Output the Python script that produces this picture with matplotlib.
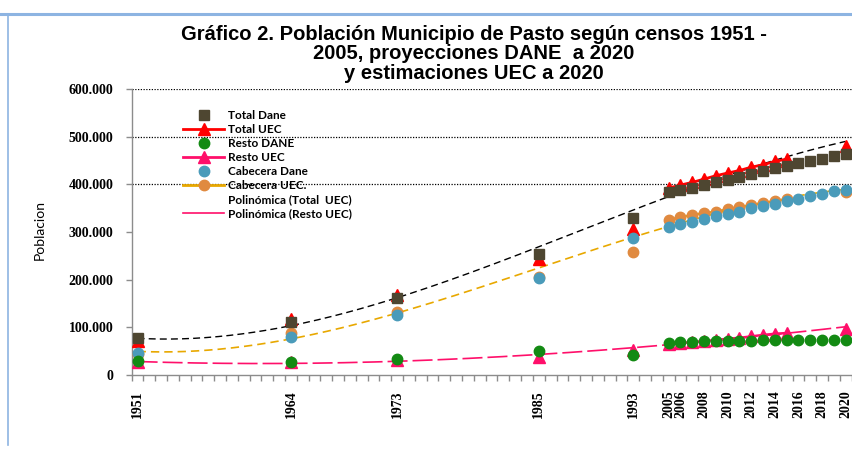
import matplotlib
matplotlib.use('Agg')
import matplotlib.pyplot as plt
from matplotlib.lines import Line2D
from matplotlib.ticker import FuncFormatter, FixedLocator, MultipleLocator
import numpy as np

# ---------------- data ----------------
census_years = [1951, 1964, 1973, 1985, 1993]
dane_years = [2005, 2006, 2007, 2008, 2009, 2010, 2011, 2012,
              2013, 2014, 2015, 2016, 2017, 2018, 2019, 2020]
uec_years = [2005, 2006, 2007, 2008, 2009, 2010, 2011, 2012, 2013, 2014, 2015]
uec_final_year = [2020]

label_years = [1951, 1964, 1973, 1985, 1993, 2005, 2006, 2008, 2010,
               2012, 2014, 2016, 2018, 2020]

total_dane_census = [77000, 112000, 161000, 254000, 330000]
total_dane_proj = [383000, 388700, 392200, 398500, 404800, 409700, 415300, 421600,
                   427100, 434200, 439100, 444700, 448900, 453800, 458600, 464300]

total_uec_census = [71000, 118000, 168000, 243000, 306000]
total_uec_proj = [392000, 398500, 404000, 411000, 418000, 423700, 429000, 436000,
                  441000, 448000, 453000]
total_uec_final = [481000]

resto_dane_census = [30000, 27000, 33000, 51000, 41000]
resto_dane_proj = [68000, 69000, 70000, 70500, 71000, 71500, 72000, 72000,
                   72500, 72500, 73000, 73000, 73000, 73000, 73000, 73000]

resto_uec_census = [27000, 27000, 31000, 37000, 52000]
resto_uec_proj = [65000, 67000, 69000, 71000, 73500, 76000, 78000, 81000,
                  84000, 86500, 88000]
resto_uec_final = [97000]

cab_dane_census = [46000, 79000, 126000, 204000, 287000]
cab_dane_proj = [310000, 316600, 322000, 327000, 332600, 338000, 343000, 350000,
                 355000, 359000, 365500, 369700, 374600, 380000, 385000, 388700]

cab_uec_census = [45000, 87500, 133000, 206000, 259000]
cab_uec_proj = [325600, 331000, 335500, 339700, 342400, 348000, 352000, 356500,
                360700, 365000, 369000]
cab_uec_final = [383000]

title = ("Gráfico 2. Población Municipio de Pasto según censos 1951 -\n"
         "2005, proyecciones DANE  a 2020\n"
         "y estimaciones UEC a 2020")

# ---------------- category axis mapping ----------------
def pos(year):
    # category slots: 1951..1993 each year, two blank slots, then 2005..2020
    return year - 1951 if year <= 1993 else year - 2005 + 45

def P(years):
    return np.array([pos(y) for y in years], dtype=float)

C_TD = '#4E4631'
C_TU = '#FF0000'
C_RD = '#138A13'
C_RU = '#FF0F6A'
C_CD = '#4A9BBA'
C_CU = '#E08A40'
C_CL = '#E8A800'

fig = plt.figure(figsize=(8.53, 4.61), dpi=100)
W, H = 853, 461
ax_left = 131.7
ax = fig.add_axes([ax_left / W, 86 / H, (W - ax_left) / W, (372 - 86) / H])
spacing = 11.8
ax.set_xlim(-0.5, -0.5 + (W - ax_left) / spacing)
ax.set_ylim(0, 600000)

# gridlines at upper values
for g in [400000, 500000, 600000]:
    ax.axhline(g, color='black', lw=0.9, ls=(0, (1, 1.2)), zorder=1)

# trendlines (polynomial fits of the series)
xx = np.linspace(0, 60, 300)
def trend(years_list, vals_list, deg=3):
    x = np.concatenate([P(y) for y in years_list])
    v = np.concatenate([np.array(a, float) for a in vals_list])
    c = np.polyfit(x, v, deg)
    return np.polyval(c, xx)

t_total = trend([census_years, uec_years, uec_final_year],
                [total_uec_census, total_uec_proj, total_uec_final])
t_resto = trend([census_years, uec_years, uec_final_year],
                [resto_uec_census, resto_uec_proj, resto_uec_final])
t_cab = trend([census_years, uec_years, uec_final_year],
              [cab_uec_census, cab_uec_proj, cab_uec_final])

ax.plot(xx, t_total, color='black', lw=1.0, ls=(0, (5, 3)), zorder=2)
ax.plot(xx, t_cab, color=C_CL, lw=1.2, ls=(0, (5, 3)), zorder=2)
ax.plot(xx, t_resto, color=C_RU, lw=1.2, ls=(0, (12, 3)), zorder=2)

# UEC series
ms_tri, ms_circ, ms_sq = 8.5, 7.5, 6.5
ax.plot(P(uec_years), cab_uec_proj, color=C_CL, lw=1.8, zorder=3)
ax.plot(P(census_years + uec_years + uec_final_year),
        cab_uec_census + cab_uec_proj + cab_uec_final, ls='none', marker='o',
        ms=ms_circ, mfc=C_CU, mec=C_CU, zorder=4)
ax.plot(P(uec_years), resto_uec_proj, color=C_RU, lw=1.8, zorder=3)
ax.plot(P(census_years + uec_years + uec_final_year),
        resto_uec_census + resto_uec_proj + resto_uec_final, ls='none', marker='^',
        ms=ms_tri, mfc=C_RU, mec=C_RU, zorder=4)
ax.plot(P(uec_years), total_uec_proj, color=C_TU, lw=2.0, zorder=3)
ax.plot(P(census_years + uec_years + uec_final_year),
        total_uec_census + total_uec_proj + total_uec_final, ls='none', marker='^',
        ms=ms_tri, mfc=C_TU, mec=C_TU, zorder=4)

# DANE series
ax.plot(P(census_years + dane_years), cab_dane_census + cab_dane_proj, ls='none',
        marker='o', ms=ms_circ, mfc=C_CD, mec=C_CD, zorder=5)
ax.plot(P(census_years + dane_years), resto_dane_census + resto_dane_proj, ls='none',
        marker='o', ms=ms_circ, mfc=C_RD, mec=C_RD, zorder=5)
ax.plot(P(census_years + dane_years), total_dane_census + total_dane_proj, ls='none',
        marker='s', ms=ms_sq, mfc=C_TD, mec=C_TD, zorder=5)

# axes styling
for s in ['top', 'right']:
    ax.spines[s].set_visible(False)
for s in ['left', 'bottom']:
    ax.spines[s].set_color('#8C8C8C')
    ax.spines[s].set_linewidth(1.0)

ax.xaxis.set_major_locator(FixedLocator(P(label_years)))
ax.set_xticklabels([str(y) for y in label_years], rotation=90,
                   fontfamily='Liberation Serif', fontweight='bold', fontsize=10)
ax.xaxis.set_minor_locator(FixedLocator(np.arange(-0.5, 61, 1.0)))
ax.tick_params(axis='x', which='major', length=0, pad=11)
ax.tick_params(axis='x', which='minor', length=4, color='#8C8C8C', width=1.0)

ax.yaxis.set_major_locator(MultipleLocator(100000))
ax.yaxis.set_major_formatter(FuncFormatter(
    lambda v, p: '0' if v == 0 else f"{int(v):,}".replace(',', '.')))
ax.tick_params(axis='y', which='major', length=4, color='#8C8C8C', width=1.0, pad=9)
for t in ax.get_yticklabels():
    t.set_fontfamily('Liberation Serif')
    t.set_fontweight('bold')
    t.set_fontsize(10)

fig.text(40 / W, 1 - 230 / H, 'Poblacion', rotation=90, ha='center', va='center',
         fontsize=10, fontfamily='Lato')

fig.text(474 / W, 1 - 25 / H, title, ha='center', va='top', fontsize=14.5,
         fontweight='bold', fontfamily='Liberation Sans', linespacing=1.03,
         multialignment='center')

# legend
handles = [
    Line2D([], [], ls='none', marker='s', ms=ms_sq, mfc=C_TD, mec=C_TD),
    Line2D([], [], color=C_TU, lw=2, marker='^', ms=ms_tri, mfc=C_TU, mec=C_TU),
    Line2D([], [], ls='none', marker='o', ms=ms_circ, mfc=C_RD, mec=C_RD),
    Line2D([], [], color=C_RU, lw=2, marker='^', ms=ms_tri, mfc=C_RU, mec=C_RU),
    Line2D([], [], ls='none', marker='o', ms=ms_circ, mfc=C_CD, mec=C_CD),
    Line2D([], [], color=C_CL, lw=2, marker='o', ms=ms_circ, mfc=C_CU, mec=C_CU),
    Line2D([], [], color='black', lw=1, alpha=0.0),
    Line2D([], [], color=C_RU, lw=1.2),
]
labels = ['Total Dane', 'Total UEC', 'Resto DANE', 'Resto UEC', 'Cabecera Dane',
          'Cabecera UEC.', 'Polinómica (Total  UEC)', 'Polinómica (Resto UEC)']
fig.legend(handles, labels, loc='upper left', bbox_to_anchor=(183 / W, 1 - 110 / H),
           frameon=False, borderpad=0, borderaxespad=0, handlelength=3.5,
           handletextpad=0.35, labelspacing=0.26,
           prop={'family': 'Lato', 'weight': 'bold', 'size': 8.5})

# decorative frame lines
fig.add_artist(Line2D([0, 1], [1 - 14 / H, 1 - 14 / H], transform=fig.transFigure,
                      color='#8DB4E2', lw=2.2))
fig.add_artist(Line2D([8 / W, 8 / W], [1 - 14 / H, 1 - 445 / H], transform=fig.transFigure,
                      color='#8DB4E2', lw=1.2))

fig.savefig('out.png', dpi=100)
